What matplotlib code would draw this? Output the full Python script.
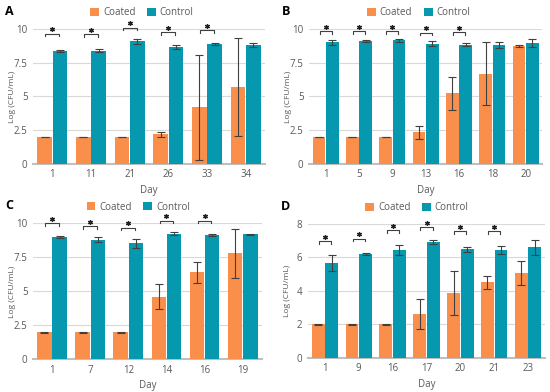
import matplotlib.pyplot as plt
import numpy as np
from matplotlib.patches import Patch
from matplotlib.ticker import FormatStrFormatter

# Panel A
days_a = ['1', '11', '21', '26', '33', '34']
coated_a = [2.0, 2.0, 2.0, 2.2, 4.2, 5.7]
coated_a_err = [0.02, 0.02, 0.02, 0.18, 3.9, 3.6]
control_a = [8.4, 8.4, 9.1, 8.7, 8.9, 8.82]
control_a_err = [0.08, 0.12, 0.18, 0.15, 0.05, 0.12]
sig_a = [9.65, 9.6, 10.1, 9.78, 9.9]

# Panel B
days_b = ['1', '5', '9', '13', '16', '18', '20']
coated_b = [2.0, 2.0, 2.0, 2.35, 5.23, 6.7, 8.77]
coated_b_err = [0.02, 0.02, 0.02, 0.47, 1.2, 2.37, 0.07]
control_b = [9.0, 9.1, 9.17, 8.92, 8.85, 8.8, 8.95]
control_b_err = [0.15, 0.07, 0.12, 0.16, 0.12, 0.2, 0.3]
sig_b = [9.83, 9.83, 9.83, 9.72, 9.75]

# Panel C
days_c = ['1', '7', '12', '14', '16', '19']
coated_c = [2.0, 2.0, 2.0, 4.6, 6.4, 7.8]
coated_c_err = [0.02, 0.02, 0.02, 0.92, 0.78, 1.8]
control_c = [9.0, 8.8, 8.55, 9.25, 9.15, 9.19]
control_c_err = [0.07, 0.18, 0.32, 0.12, 0.1, 0.03]
sig_c = [10.0, 9.8, 9.7, 10.2, 10.2]

# Panel D
days_d = ['1', '9', '16', '17', '20', '21', '23']
coated_d = [2.0, 2.0, 2.0, 2.6, 3.86, 4.5, 5.05]
coated_d_err = [0.02, 0.02, 0.02, 0.9, 1.33, 0.37, 0.71]
control_d = [5.65, 6.2, 6.45, 6.9, 6.47, 6.43, 6.6]
control_d_err = [0.47, 0.08, 0.3, 0.12, 0.17, 0.22, 0.46]
sig_d = [6.95, 7.12, 7.62, 7.82, 7.56, 7.56]

ORANGE = '#F98F4B'
TEAL = '#0598AF'
TXT = '#595959'

plt.rcParams['font.family'] = ['Open Sans', 'DejaVu Sans']

fig = plt.figure(figsize=(5.5, 3.92), dpi=100)


def draw_panel(rect, letter, days, coated, coated_err, control, control_err,
               sig, ymax, ystep, fmt, leg_x):
    ax = fig.add_axes(rect)
    x = np.arange(len(days))
    w = 0.38
    ekw = dict(ecolor='#404040', elinewidth=0.8, capsize=3, capthick=0.8)
    ax.bar(x - 0.2, coated, w, color=ORANGE, yerr=coated_err,
           error_kw=ekw, zorder=3)
    ax.bar(x + 0.2, control, w, color=TEAL, yerr=control_err,
           error_kw=ekw, zorder=3)

    # significance brackets with asterisk
    tick = ymax * 0.02
    for i, lvl in enumerate(sig):
        ax.plot([i - 0.18, i - 0.18, i + 0.18, i + 0.18],
                [lvl - tick, lvl, lvl, lvl - tick],
                color='#404040', lw=0.8, clip_on=False, zorder=4)
        ax.plot(i, lvl + ymax * 0.032, marker=(6, 2, 0), ms=3.5, mew=0.9,
                color='#222222', clip_on=False, zorder=4)

    ax.set_xlim(-0.5, len(days) - 0.5)
    ax.set_ylim(0, ymax)
    ax.set_yticks(np.arange(0, ymax + 0.01, ystep))
    ax.yaxis.set_major_formatter(FormatStrFormatter(fmt))
    ax.set_xticks(x)
    ax.set_xticklabels(days)
    ax.tick_params(length=0, labelsize=7, colors=TXT, pad=4)
    ax.yaxis.grid(True, color='#D9D9D9', lw=0.8, zorder=0)
    ax.set_axisbelow(True)
    for s in ['top', 'right', 'left']:
        ax.spines[s].set_visible(False)
    ax.spines['bottom'].set_color('#BFBFBF')
    ax.spines['bottom'].set_linewidth(1.5)
    ax.set_xlabel('Day', fontsize=7, color=TXT, labelpad=3)
    fig.text(rect[0] - 0.038, rect[1] + rect[3] / 2, 'Log (CFU/mL)',
             rotation=90, fontsize=6, color=TXT, ha='center', va='center')

    handles = [Patch(facecolor=ORANGE, label='Coated'),
               Patch(facecolor=TEAL, label='Control')]
    ax.legend(handles=handles, loc='center', bbox_to_anchor=(leg_x, 1.12),
              ncol=2, frameon=False, fontsize=7, handlelength=0.9,
              handleheight=0.9, handletextpad=0.4, columnspacing=1.2,
              labelcolor=TXT)
    fig.text(rect[0] - 0.05, rect[1] + rect[3] + 0.045, letter,
             fontsize=9, fontweight='bold', ha='left', va='center')
    return ax


draw_panel([0.06, 0.582, 0.422, 0.344], 'A', days_a, coated_a, coated_a_err,
           control_a, control_a_err, sig_a, 10, 2.5, '%g', 0.47)
draw_panel([0.562, 0.582, 0.424, 0.344], 'B', days_b, coated_b, coated_b_err,
           control_b, control_b_err, sig_b, 10, 2.5, '%g', 0.47)
draw_panel([0.06, 0.083, 0.416, 0.347], 'C', days_c, coated_c, coated_c_err,
           control_c, control_c_err, sig_c, 10, 2.5, '%g', 0.46)
draw_panel([0.56, 0.087, 0.431, 0.342], 'D', days_d, coated_d, coated_d_err,
           control_d, control_d_err, sig_d, 8, 2, '%g', 0.46)

plt.savefig('out.png', dpi=100, facecolor='white')
